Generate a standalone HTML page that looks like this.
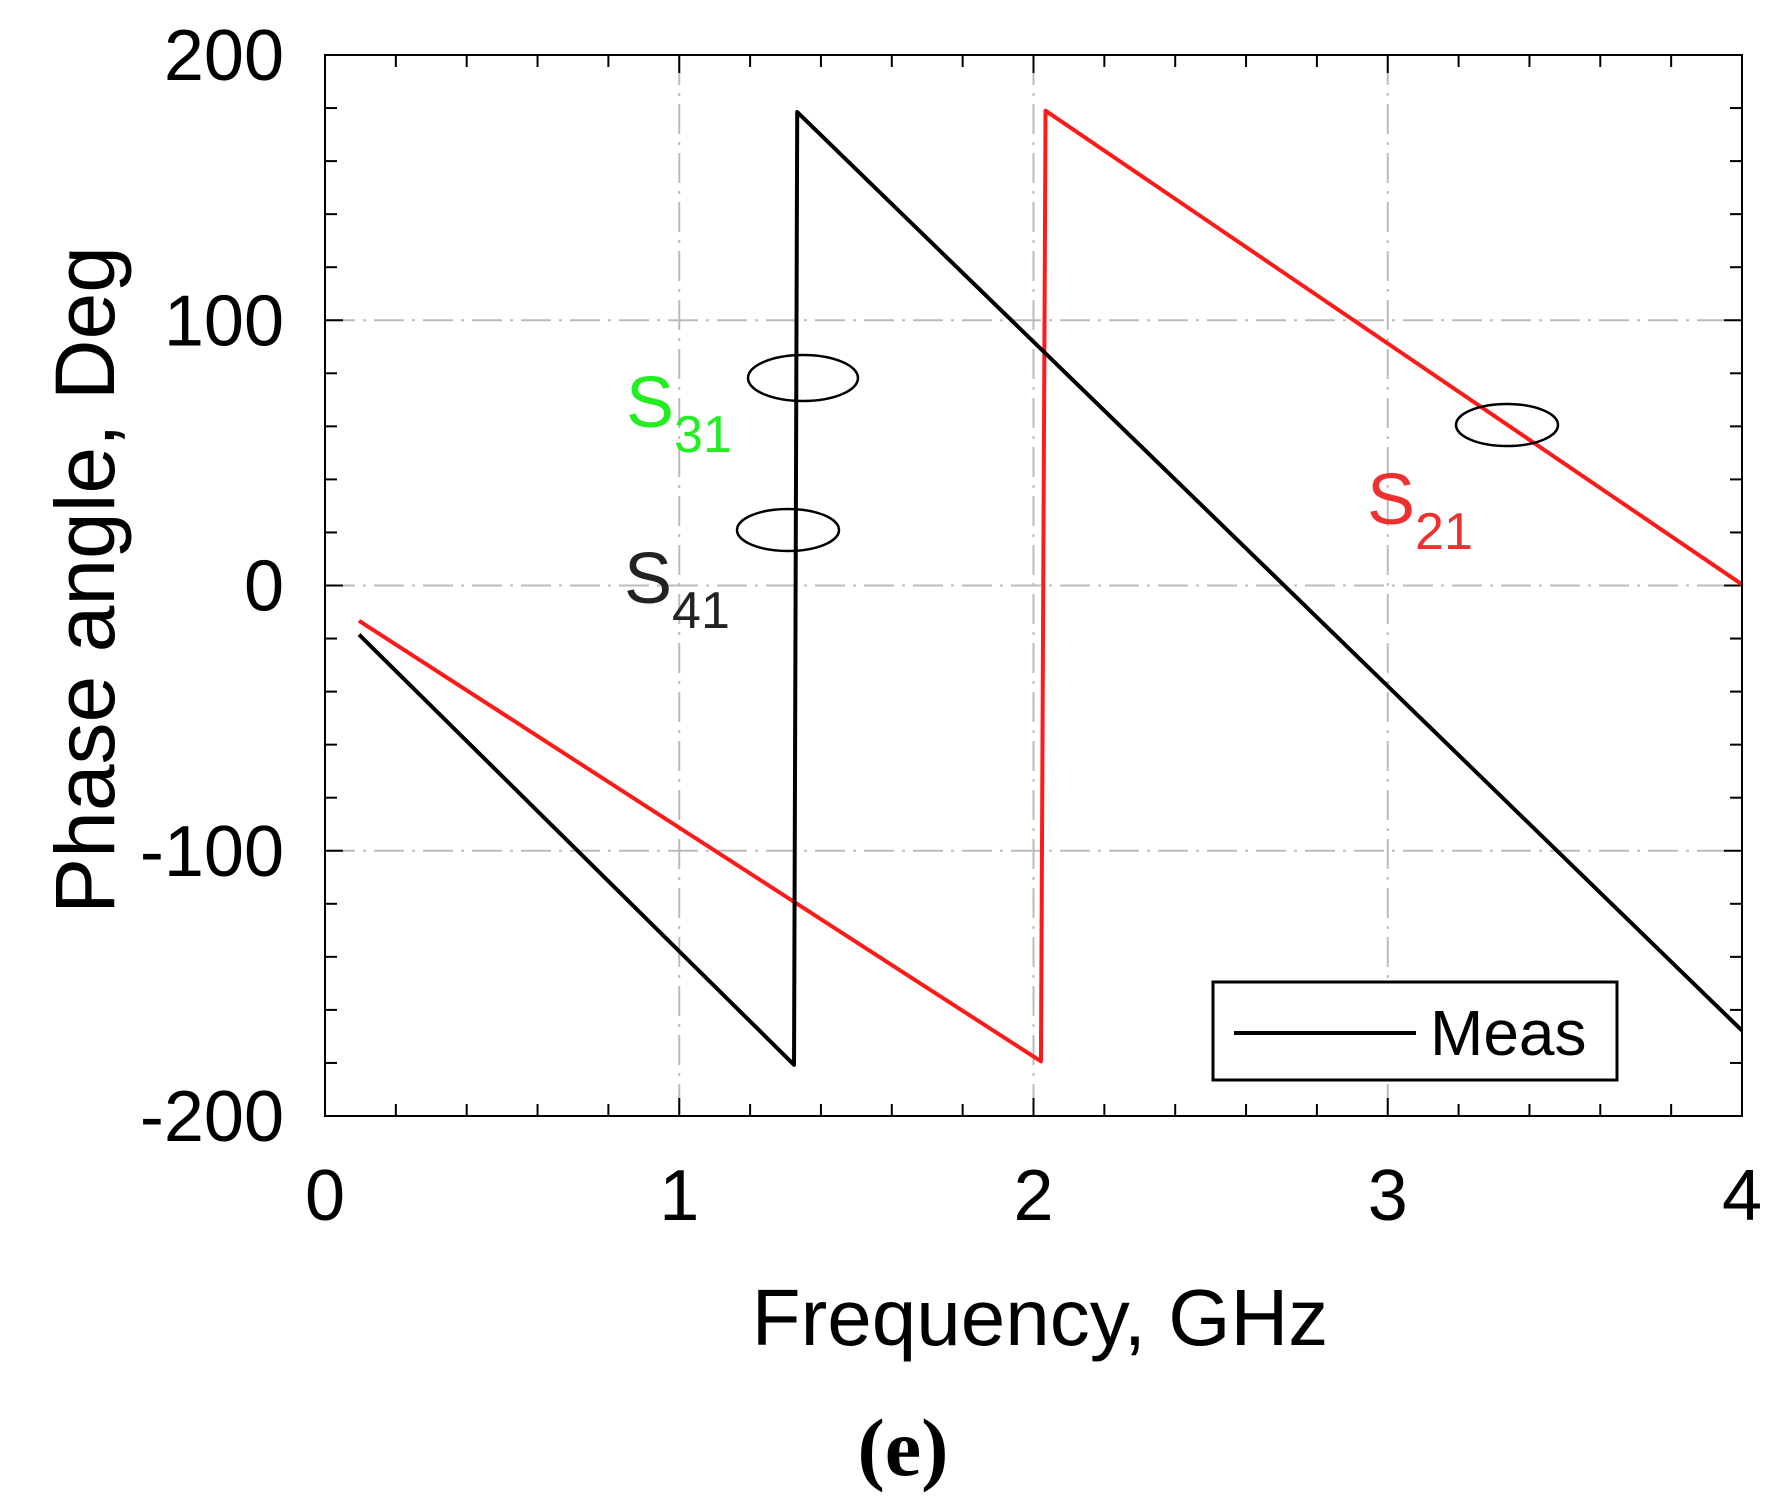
<!DOCTYPE html>
<html><head><meta charset="utf-8"><style>
html,body{margin:0;padding:0;background:#fff;}
svg{display:block;font-family:"Liberation Sans",sans-serif;}
</style></head><body>
<svg id="chart" width="1784" height="1500" viewBox="0 0 1784 1500">
<g id="grid"></g>
<g id="ticks"></g>
<g id="series"></g>
<rect x="325" y="55" width="1417" height="1061" fill="none" stroke="#000" stroke-width="2"/>
<g id="labels"></g>
<text x="0" y="0" transform="translate(114,580) rotate(-90)" text-anchor="middle" font-size="84">Phase angle,  Deg</text>
<text x="1040" y="1345" text-anchor="middle" font-size="80">Frequency, GHz</text>
<text x="903" y="1475" text-anchor="middle" font-size="82" font-weight="bold" font-family="Liberation Serif, serif">(e)</text>
<ellipse cx="803" cy="378" rx="55" ry="23" fill="none" stroke="#000" stroke-width="2.5"/>
<ellipse cx="788" cy="530" rx="51" ry="21" fill="none" stroke="#000" stroke-width="2.5"/>
<ellipse cx="1507" cy="425" rx="51" ry="21" fill="none" stroke="#000" stroke-width="2.5"/>
<text x="626" y="427" font-size="72" fill="#22ee22">S<tspan font-size="52" dy="25">31</tspan></text>
<text x="624" y="603" font-size="72" fill="#222">S<tspan font-size="52" dy="25">41</tspan></text>
<text x="1367" y="524" font-size="72" fill="#f03030">S<tspan font-size="52" dy="25">21</tspan></text>
<g>
<rect x="1213" y="982" width="404" height="98" fill="#fff" stroke="#000" stroke-width="3"/>
<line x1="1234" y1="1033" x2="1416" y2="1033" stroke="#000" stroke-width="4"/>
<text x="1430" y="1055" font-size="64">Meas</text>
</g>
</svg>
<script>
const xTicks=[0,1,2,3,4];
const yTicks=[-200,-100,0,100,200];
const blackF=[0.096,1.324,1.333,4.0];
const blackP=[-18.5,-180.7,178.5,-167.8];
const redF=[0.096,2.021,2.034,4.0];
const redP=[-13.3,-179.4,179,0.4];
const X0=325,X1=1742,Y0=1116,Y1=55;
function xs(v){return X0+(v-0)/(4-0)*(X1-X0);}
function ys(v){return Y0-(v+200)/400*(Y0-Y1);}
const NS="http://www.w3.org/2000/svg";
function mk(tag,attrs,parent){const e=document.createElementNS(NS,tag);for(const k in attrs)e.setAttribute(k,attrs[k]);parent.appendChild(e);return e;}
const grid=document.getElementById('grid'),ticks=document.getElementById('ticks'),labels=document.getElementById('labels'),series=document.getElementById('series');
[1,2,3].forEach(v=>{const l=mk('line',{x1:xs(v),x2:xs(v),y1:Y1,y2:Y0,stroke:'#bbb','stroke-width':2,'stroke-dasharray':'30 8 3 8'},grid);

});
[-100,0,100].forEach(v=>{const l=mk('line',{x1:X0,x2:X1,y1:ys(v),y2:ys(v),stroke:'#bbb','stroke-width':2,'stroke-dasharray':'30 8 3 8'},grid);

});
for(let i=1;i<20;i++){const x=xs(i*0.2);const L=(i%5==0)?18:12;
const a=mk('line',{x1:x,x2:x,y1:Y0,y2:Y0-L,stroke:'#000','stroke-width':2},ticks);


const b=mk('line',{x1:x,x2:x,y1:Y1,y2:Y1+L,stroke:'#000','stroke-width':2},ticks);

}
for(let i=1;i<20;i++){const y=ys(-200+i*20);const L=(i%5==0)?18:12;
const a=mk('line',{x1:X0,x2:X0+L,y1:y,y2:y,stroke:'#000','stroke-width':2},ticks);


const b=mk('line',{x1:X1,x2:X1-L,y1:y,y2:y,stroke:'#000','stroke-width':2},ticks);

}
xTicks.forEach(v=>{const t=mk('text',{x:xs(v),y:1220,'text-anchor':'middle','font-size':72},labels);t.textContent=v;

});
yTicks.forEach(v=>{const t=mk('text',{x:284,y:ys(v)+25,'text-anchor':'end','font-size':72},labels);t.textContent=v;

});
function poly(F,P,col,name){const pts=F.map((f,i)=>xs(f)+','+ys(P[i])).join(' ');
const p=mk('polyline',{points:pts,fill:'none',stroke:col,'stroke-width':4,'stroke-linejoin':'round'},series);

}
poly(redF,redP,'#ff1a1a','s21-line');
poly(blackF,blackP,'#000','s31-s41-line');
</script>
</body></html>
